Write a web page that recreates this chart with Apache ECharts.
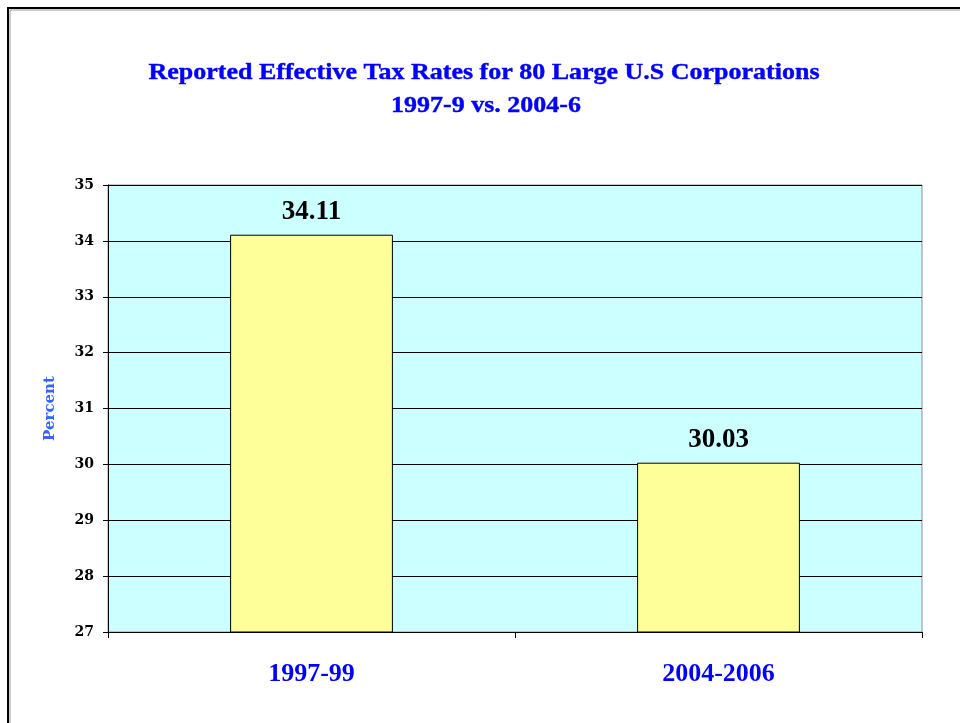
<!DOCTYPE html>
<html><head><meta charset="utf-8">
<script src="https://cdn.jsdelivr.net/npm/echarts@6/dist/echarts.min.js"></script>
<style>html,body{margin:0;padding:0;background:#fff}#c{width:960px;height:723px}</style>
</head><body><div id="c"></div>
<script>
const categories = ['1997-99', '2004-2006'];
const values = [34.11, 30.03];
const yTicks = [27, 28, 29, 30, 31, 32, 33, 34, 35];
const titleLines = ['Reported Effective Tax Rates for 80 Large U.S Corporations', '1997-9 vs. 2004-6'];

const chart = echarts.init(document.getElementById('c'));
const serif = '"Liberation Serif", "Times New Roman", serif';
const dserif = '"DejaVu Serif", serif';
chart.setOption({
  animation: false,
  backgroundColor: '#fff',
  graphic: [
    {type: 'rect', shape: {x: 8, y: 8, width: 1000, height: 800}, style: {fill: 'none', stroke: '#000', lineWidth: 2}, z: 10},
    {type: 'rect', shape: {x: 10, y: 10, width: 1000, height: 800}, style: {fill: 'none', stroke: '#999', lineWidth: 1}, z: 10},
    {type: 'text', x: 484, y: 73, scaleX: 1.13, z: 10,
      style: {text: titleLines[0], font: 'bold 23px ' + serif, fill: '#0000ff', stroke: '#0000ff', lineWidth: 0.4, align: 'center', verticalAlign: 'middle'}},
    {type: 'text', x: 486, y: 106, scaleX: 1.13, z: 10,
      style: {text: titleLines[1], font: 'bold 23px ' + serif, fill: '#0000ff', stroke: '#0000ff', lineWidth: 0.4, align: 'center', verticalAlign: 'middle'}}
  ],
  grid: {left: 108, right: 38, top: 185, bottom: 91, show: true, backgroundColor: '#ccffff', borderColor: '#909090', borderWidth: 1},
  xAxis: {
    type: 'category', data: categories,
    axisLine: {lineStyle: {color: '#000', width: 1}},
    axisTick: {show: true, length: 6, lineStyle: {color: '#000'}},
    axisLabel: {margin: 29, fontFamily: serif, fontWeight: 'bold', fontSize: 26, color: '#0000ff'}
  },
  yAxis: {
    type: 'value', min: 27, max: 35, interval: 1,
    name: 'Percent', nameLocation: 'middle', nameGap: 50,
    nameTextStyle: {fontFamily: dserif, fontWeight: 'bold', fontSize: 15, color: '#3366ff'},
    axisLine: {show: true, lineStyle: {color: '#000'}},
    axisTick: {show: true, length: 5, lineStyle: {color: '#000'}},
    axisLabel: {margin: 14, fontFamily: dserif, fontWeight: 'bold', fontSize: 14, color: '#000',
      formatter: v => yTicks.includes(v) ? String(v) : ''},
    splitLine: {show: true, lineStyle: {color: '#000', width: 1}}
  },
  series: [{
    type: 'bar', data: values, barWidth: '40%',
    itemStyle: {color: '#ffff99', borderColor: '#000', borderWidth: 1},
    label: {show: true, position: 'top', distance: 9, formatter: p => p.value.toFixed(2),
      fontFamily: serif, fontWeight: 'bold', fontSize: 27, color: '#000'}
  }]
});
</script></body></html>
